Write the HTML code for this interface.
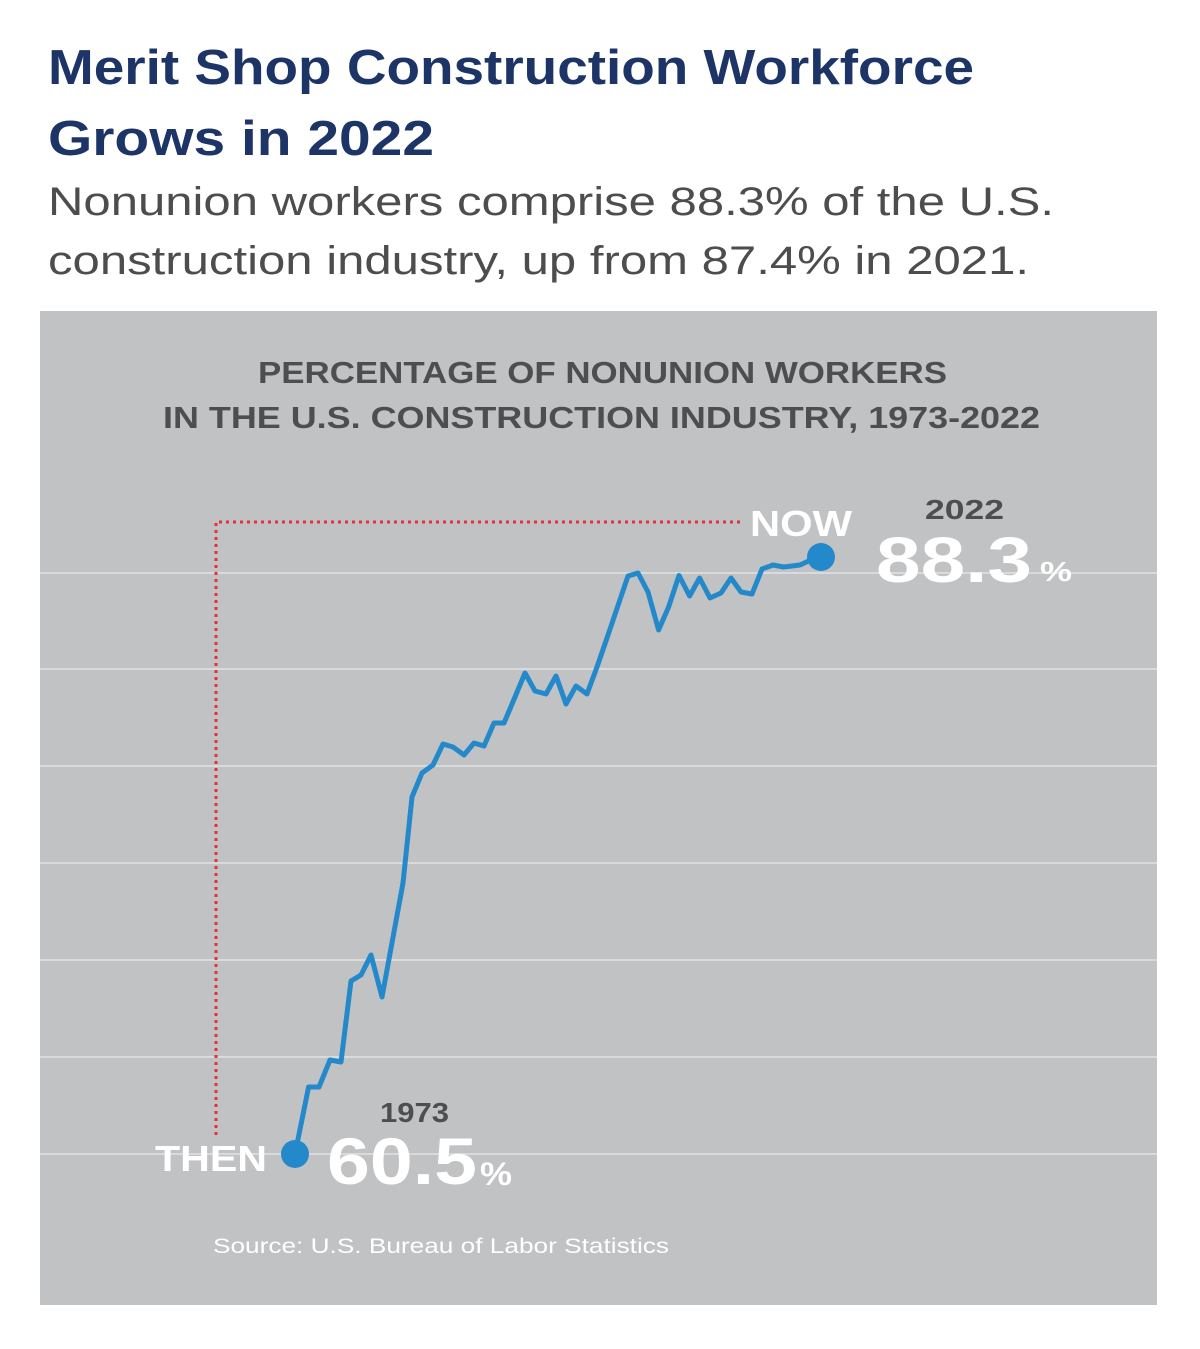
<!DOCTYPE html>
<html><head><meta charset="utf-8"><style>
body{margin:0;width:1200px;height:1349px;background:#fff;font-family:"Liberation Sans",sans-serif;position:relative;overflow:hidden}
</style></head><body>
<svg style="position:absolute;left:0;top:0" width="1200" height="1349" font-family="Liberation Sans, sans-serif">
<g lengthAdjust="spacingAndGlyphs">
<text x="48" y="84" font-size="49" font-weight="bold" fill="#1d3466" textLength="926" lengthAdjust="spacingAndGlyphs">Merit Shop Construction Workforce</text>
<text x="48" y="155" font-size="49" font-weight="bold" fill="#1d3466" textLength="386" lengthAdjust="spacingAndGlyphs">Grows in 2022</text>
<text x="48" y="215" font-size="40" fill="#4d4d4d" textLength="1006" lengthAdjust="spacingAndGlyphs">Nonunion workers comprise 88.3% of the U.S.</text>
<text x="48" y="274" font-size="40" fill="#4d4d4d" textLength="981" lengthAdjust="spacingAndGlyphs">construction industry, up from 87.4% in 2021.</text>
</g>
<rect x="40" y="311" width="1117" height="994" fill="#c1c2c4"/>
<g stroke="#d9dadb" stroke-width="2">
<line x1="40" x2="1157" y1="573" y2="573"/><line x1="40" x2="1157" y1="669" y2="669"/>
<line x1="40" x2="1157" y1="766" y2="766"/><line x1="40" x2="1157" y1="863" y2="863"/>
<line x1="40" x2="1157" y1="960" y2="960"/><line x1="40" x2="1157" y1="1057" y2="1057"/>
<line x1="40" x2="1157" y1="1154" y2="1154"/></g>
<path d="M216 1135 V522 H740" fill="none" stroke="#e8303c" stroke-width="3" stroke-dasharray="3 4"/>
<polyline fill="none" stroke="#2389cb" stroke-width="5" stroke-linejoin="round" points="295,1154 308.6,1087 319,1087 330,1060 341,1062 351,981 361,975 371,955 382,997 403,883 412,797 422,773 433,765 443,744 453,747 464,755 474,743 484,746 494,723 504,723 515,697 525,673 535,691 546,694 556,676 566,704 576,686 587,694 597,667 607,638 617.5,607 628,576 638,573 648,592 658.6,630 668.6,607 679,575.5 689.6,596 699.6,578 710,598 721,593 731,578 741,592 752,594 762,569 773,565 783.6,567 800,565 808.6,561 822,557"/>
<circle cx="295" cy="1154" r="14" fill="#2389cb"/>
<circle cx="821" cy="557" r="14" fill="#2389cb"/>
<g font-weight="bold" fill="#4d4e50" font-size="31">
<text x="258" y="383" textLength="689" lengthAdjust="spacingAndGlyphs">PERCENTAGE OF NONUNION WORKERS</text>
<text x="163" y="428" textLength="877" lengthAdjust="spacingAndGlyphs">IN THE U.S. CONSTRUCTION INDUSTRY, 1973-2022</text>
</g>
<g font-weight="bold">
<text x="750" y="536" font-size="36" fill="#fff" textLength="102" lengthAdjust="spacingAndGlyphs">NOW</text>
<text x="925" y="519" font-size="28" fill="#4d4e50" textLength="79" lengthAdjust="spacingAndGlyphs">2022</text>
<text x="876" y="582" font-size="64" fill="#fff" textLength="156" lengthAdjust="spacingAndGlyphs">88.3</text>
<text x="1040" y="581" font-size="28" fill="#fff" textLength="32" lengthAdjust="spacingAndGlyphs">%</text>
<text x="155" y="1171" font-size="36" fill="#fff" textLength="112" lengthAdjust="spacingAndGlyphs">THEN</text>
<text x="380" y="1122" font-size="28" fill="#4d4e50" textLength="69" lengthAdjust="spacingAndGlyphs">1973</text>
<text x="327" y="1184" font-size="66" fill="#fff" textLength="150" lengthAdjust="spacingAndGlyphs">60.5</text>
<text x="480" y="1185" font-size="32" fill="#fff" textLength="32" lengthAdjust="spacingAndGlyphs">%</text>
</g>
<text x="213" y="1253" font-size="21" fill="#fff" textLength="456" lengthAdjust="spacingAndGlyphs">Source: U.S. Bureau of Labor Statistics</text>
</svg>
</body></html>
